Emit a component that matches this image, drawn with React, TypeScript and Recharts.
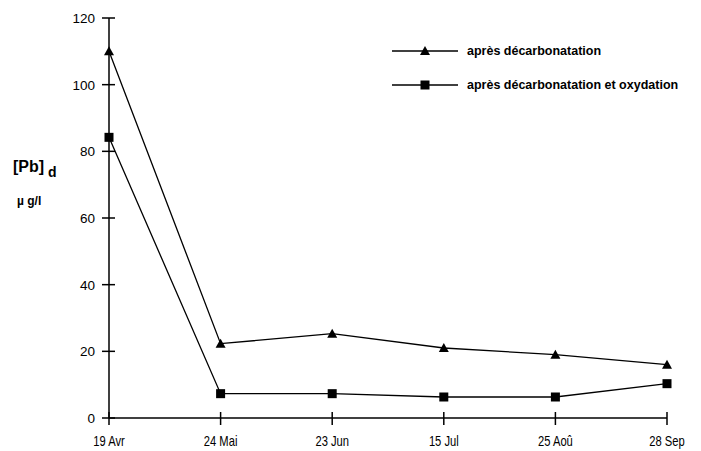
import { LineChart, Line, XAxis, YAxis } from "recharts";

const dates = ["19 Avr", "24 Mai", "23 Jun", "15 Jul", "25 Aoû", "28 Sep"];
const decarb = [110, 22.3, 25.3, 21, 19, 16];
const decarbOxy = [84.2, 7.3, 7.3, 6.3, 6.3, 10.3];
const yTicks = [0, 20, 40, 60, 80, 100, 120];

const SERIES = [
  { key: "decarb", name: "après décarbonatation", marker: "triangle" },
  { key: "decarbOxy", name: "après décarbonatation et oxydation", marker: "square" },
];

const FONT = "'Liberation Sans', Arial, sans-serif";

const data = dates.map((d, i) => ({ date: d, decarb: decarb[i], decarbOxy: decarbOxy[i] }));

const Marker = ({ cx, cy, kind }: { cx: number; cy: number; kind: string }) =>
  kind === "triangle" ? (
    <path d={`M${cx},${cy - 5} L${cx + 5},${cy + 4} L${cx - 5},${cy + 4} Z`} fill="#000" />
  ) : (
    <rect x={cx - 4.5} y={cy - 4.5} width={9} height={9} fill="#000" />
  );

// x labels look condensed in the original, so squeeze them horizontally
const XTick = (props: any) => {
  const { x, y, payload } = props;
  return (
    <g>
      <line x1={x} x2={x} y1={y - 6} y2={y + 7} stroke="#000" strokeWidth={1.5} />
      <text
        transform={`translate(${x},${y + 28}) scale(0.8,1)`}
        textAnchor="middle"
        fontSize={14}
        fontFamily={FONT}
        fill="#000"
      >
        {payload.value}
      </text>
    </g>
  );
};

const YTick = (props: any) => {
  const { x, y, payload } = props;
  return (
    <g>
      <line x1={x - 7} x2={x + 6} y1={y} y2={y} stroke="#000" strokeWidth={1.5} />
      <text x={x - 14} y={y + 5} textAnchor="end" fontSize={13.5} fontFamily={FONT} fill="#000">
        {payload.value}
      </text>
    </g>
  );
};

const LegendBox = () => (
  <svg width={320} height={64} style={{ position: "absolute", left: 390, top: 38 }}>
    {SERIES.map((s, i) => {
      const y = 13 + i * 34;
      return (
        <g key={s.key}>
          <line x1={2} x2={68} y1={y} y2={y} stroke="#000" strokeWidth={1.3} />
          <Marker cx={35} cy={y} kind={s.marker} />
          <text x={77} y={y + 3.5} fontSize={12.5} fontWeight="bold" fontFamily={FONT} fill="#000">
            {s.name}
          </text>
        </g>
      );
    })}
  </svg>
);

const YLabel = () => (
  <g fontFamily={FONT} fontWeight="bold" fill="#000">
    <text x={13} y={172} fontSize={16}>
      [Pb]
      <tspan dx={4} dy={5} fontSize={14}>d</tspan>
    </text>
    <text x={17} y={205} fontSize={12}>µ g/l</text>
  </g>
);

export default function App() {
  return (
    <div style={{ position: "absolute", left: 0, top: 0, width: 701, height: 451, background: "#fff" }}>
      <LineChart width={701} height={451} data={data} margin={{ top: 18, right: 34, left: 0, bottom: 0 }}>
        <XAxis
          dataKey="date"
          height={33}
          padding={{ left: 0, right: 0 }}
          stroke="#000"
          strokeWidth={1.5}
          tickLine={false}
          tickSize={0}
          tickMargin={0}
          tick={<XTick />}
          interval={0}
        />
        <YAxis
          width={109}
          domain={[0, 120]}
          ticks={yTicks}
          stroke="#000"
          strokeWidth={1.5}
          tickLine={false}
          tickSize={0}
          tickMargin={0}
          tick={<YTick />}
          label={{ content: () => <YLabel /> }}
        />
        {SERIES.map((s) => (
          <Line
            key={s.key}
            dataKey={s.key}
            name={s.name}
            type="linear"
            stroke="#000"
            strokeWidth={1.3}
            dot={(p: any) => <Marker key={`${s.key}-${p.index}`} cx={p.cx} cy={p.cy} kind={s.marker} />}
            activeDot={false}
            isAnimationActive={false}
          />
        ))}
      </LineChart>
      <LegendBox />
    </div>
  );
}
